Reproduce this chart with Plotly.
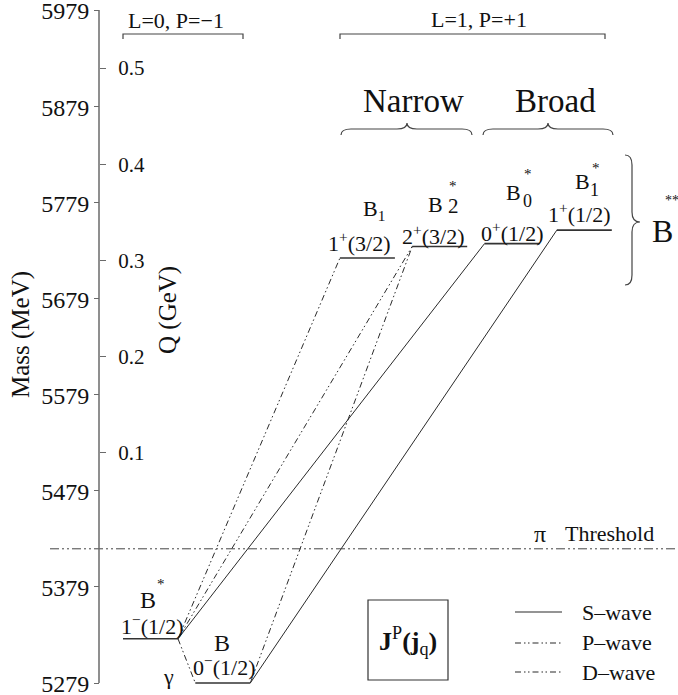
import plotly.graph_objects as go

W, H = 678, 695
FONT = "Liberation Serif"
INK = "#111111"
LINE = "#2a2a2a"
AXIS = "#6a6a6a"

# ---------------- data ----------------
STATES = ["B*", "B", "B1", "B2*", "B0*", "B1*"]
MASS_MEV = [5325, 5279, 5721, 5733, 5736, 5750]
JP_LABELS = ["1<sup>−</sup>(1/2)", "0<sup>−</sup>(1/2)", "1<sup>+</sup>(3/2)",
             "2<sup>+</sup>(3/2)", "0<sup>+</sup>(1/2)", "1<sup>+</sup>(1/2)"]

TRANS_FROM = ["B*", "B*", "B", "B*", "B", "B*"]
TRANS_TO = ["B1", "B2*", "B2*", "B0*", "B1*", "B"]
TRANS_WAVE = ["D", "D", "D", "S", "S", "P"]

MASS_TICKS = [5279, 5379, 5479, 5579, 5679, 5779, 5879, 5979]
Q_TICKS = [0.1, 0.2, 0.3, 0.4, 0.5]
PION_MASS = 139.57
B_MASS = 5279

# ---------------- layout geometry ----------------
COLUMN = {"B*": 0, "B": 1, "B1": 3, "B2*": 4, "B0*": 5, "B1*": 6}
COL0_PX, COL_STEP_PX = 123.0, 72.3
LEVEL_W = 55.0 / COL_STEP_PX
AXIS_PX = 99.0

PX_PER_MEV = 673.0 / 700.0
Y_RANGE = [5979 + 10 / PX_PER_MEV - H / PX_PER_MEV, 5979 + 10 / PX_PER_MEV]
X_RANGE = [-COL0_PX / COL_STEP_PX, (W - COL0_PX) / COL_STEP_PX]
threshold = B_MASS + PION_MASS
Q_RANGE = [(Y_RANGE[0] - threshold) / 1000.0, (Y_RANGE[1] - threshold) / 1000.0]

WAVE_DASH = {"S": "solid",
             "P": "6px,3px,1.5px,2.5px,1.5px,3px",
             "D": "6px,3px,1.5px,2.5px,1.5px,3px"}
THRESH_DASH = "9px,3px,2px,3px,2px,3px"


def X(px):
    return px / W


def Y(py):
    return 1 - py / H


mass = dict(zip(STATES, MASS_MEV))

fig = go.Figure()

# energy levels
for s, m in zip(STATES, MASS_MEV):
    c = COLUMN[s]
    fig.add_trace(go.Scatter(x=[c, c + LEVEL_W], y=[m, m], mode="lines",
                             line=dict(color="#333333", width=1.6),
                             hoverinfo="skip", showlegend=False))

# decay transitions: right end of left state -> left end of right state
for a, b, w in zip(TRANS_FROM, TRANS_TO, TRANS_WAVE):
    ca, cb = COLUMN[a], COLUMN[b]
    if ca > cb:
        a, b, ca, cb = b, a, cb, ca
    fig.add_trace(go.Scatter(x=[ca + LEVEL_W, cb], y=[mass[a], mass[b]], mode="lines",
                             line=dict(color=LINE, width=1.0, dash=WAVE_DASH[w]),
                             hoverinfo="skip", showlegend=False))

# pion threshold at Q = 0
fig.add_trace(go.Scatter(x=[(50 - COL0_PX) / COL_STEP_PX, X_RANGE[1]], y=[0, 0],
                         yaxis="y2", mode="lines",
                         line=dict(color="#444444", width=1.0, dash=THRESH_DASH),
                         hoverinfo="skip", showlegend=False))

fig.update_layout(
    width=W, height=H, margin=dict(l=0, r=0, t=0, b=0),
    paper_bgcolor="white", plot_bgcolor="white",
    xaxis=dict(range=X_RANGE, visible=False, fixedrange=True),
    yaxis=dict(range=Y_RANGE, anchor="free", position=AXIS_PX / W, side="left",
               tickvals=MASS_TICKS, ticktext=[str(t) for t in MASS_TICKS],
               ticks="outside", ticklen=5, tickcolor=AXIS, tickwidth=1.2,
               ticklabeloverflow="allow", ticklabelshift=1,
               showline=False, showgrid=False, zeroline=False,
               tickfont=dict(family=FONT, size=24, color=INK), automargin=False),
    yaxis2=dict(range=Q_RANGE, overlaying="y", anchor="free", position=AXIS_PX / W,
                side="right", tickvals=Q_TICKS, ticktext=[f"{q:.1f}" for q in Q_TICKS],
                ticks="outside", ticklen=6, tickcolor=AXIS, tickwidth=1.2,
                ticklabelstandoff=8, ticklabeloverflow="allow",
                showline=False, showgrid=False, zeroline=False,
                tickfont=dict(family=FONT, size=21, color=INK), automargin=False),
    showlegend=False,
)

shapes = []
# mass axis line
shapes.append(dict(type="line", xref="paper", yref="y", x0=X(AXIS_PX), x1=X(AXIS_PX),
                   y0=MASS_TICKS[0], y1=MASS_TICKS[-1], line=dict(color=AXIS, width=1.5)))


def P(px, py):
    return f"{X(px):.5f},{Y(py):.5f}"


# orbital-angular-momentum brackets
for x1, x2 in [(123, 243), (340, 605)]:
    shapes.append(dict(type="path", xref="paper", yref="paper",
                       path=f"M{P(x1, 39)} L{P(x1, 34)} L{P(x2, 34)} L{P(x2, 39)}",
                       line=dict(color="#444444", width=1.2)))


def hbrace(x1, x2, xt, yb=135, ym=129, yt=123, r=10):
    return (f"M{P(x1, yb)} Q{P(x1, ym)} {P(x1 + r, ym)} L{P(xt - r, ym)} "
            f"Q{P(xt, ym)} {P(xt, yt)} Q{P(xt, ym)} {P(xt + r, ym)} "
            f"L{P(x2 - r, ym)} Q{P(x2, ym)} {P(x2, yb)}")


for x1, x2, xt in [(341, 472, 407), (483, 613, 548)]:
    shapes.append(dict(type="path", xref="paper", yref="paper", path=hbrace(x1, x2, xt),
                       line=dict(color="#444444", width=1.2)))

# vertical brace grouping the P-wave states
vb = (f"M{P(625, 155)} Q{P(632, 155)} {P(632, 165)} L{P(632, 212)} "
      f"Q{P(632, 222)} {P(640, 222)} Q{P(632, 222)} {P(632, 232)} "
      f"L{P(632, 275)} Q{P(632, 285)} {P(625, 285)}")
shapes.append(dict(type="path", xref="paper", yref="paper", path=vb,
                   line=dict(color="#444444", width=1.2)))

# key box
shapes.append(dict(type="rect", xref="paper", yref="paper", x0=X(368), x1=X(448),
                   y0=Y(680), y1=Y(600), line=dict(color="#333333", width=1.2)))

# legend samples
for py, w in [(612, "S"), (643, "P"), (672, "D")]:
    shapes.append(dict(type="line", xref="paper", yref="paper", x0=X(515), x1=X(562),
                       y0=Y(py), y1=Y(py),
                       line=dict(color=LINE, width=1.2, dash=WAVE_DASH[w])))

fig.update_layout(shapes=shapes)


def text(s, px, py, size, angle=0, xanchor="center"):
    fig.add_annotation(text=s, x=X(px), y=Y(py), xref="paper", yref="paper",
                       showarrow=False, textangle=angle, xanchor=xanchor, yanchor="middle",
                       font=dict(family=FONT, size=size, color=INK))


# axis titles
text("Mass (MeV)", 21, 335, 25, angle=-90)
text("Q (GeV)", 168, 310, 25, angle=-90)

# group headings
text("L=0, P=−1", 176, 21, 22)
text("L=1, P=+1", 479, 19, 22)
text("Narrow", 414, 101, 33)
text("Broad", 555, 101, 33)

# state names
text("B", 148, 600, 24)
text("*", 161, 584, 15)
text("B", 222, 643, 24)
text("γ", 168, 676, 22)
text("B<sub>1</sub>", 374, 210, 22)
text("B", 435, 205, 22)
text("2", 453, 206, 21)
text("*", 453, 186, 15)
text("B", 513, 192, 22)
text("0", 527, 201, 18)
text("*", 528, 174, 15)
text("B", 582, 181, 22)
text("1", 594, 190, 18)
text("*", 596, 168, 15)
text("B", 662, 231, 32)
text("**", 672, 200, 14)

# spin-parity labels
JP_POS = {"B*": (152, 625), "B": (224, 666), "B1": (359, 242),
          "B2*": (433, 235), "B0*": (512, 232), "B1*": (579, 213)}
for s, lab in zip(STATES, JP_LABELS):
    px, py = JP_POS[s]
    text(lab, px, py, 22)

# threshold and key
text("π", 540, 534, 24)
text("Threshold", 609, 533, 22)
text("<b>J</b><sup>P</sup><b>(j</b><sub>q</sub><b>)</b>", 408, 641, 26)
text("S–wave", 580, 612, 22, xanchor="left")
text("P–wave", 580, 642, 22, xanchor="left")
text("D–wave", 580, 672, 22, xanchor="left")

fig.write_html("out.html")
